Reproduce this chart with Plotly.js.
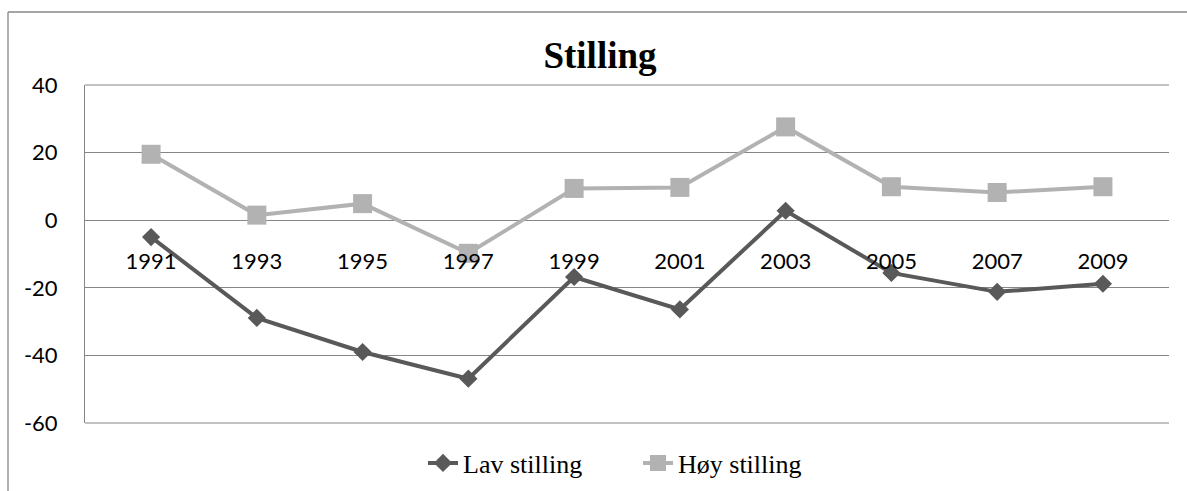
<!DOCTYPE html>
<html>
<head>
<meta charset="utf-8">
<script src="https://cdn.plot.ly/plotly-3.0.1.min.js"></script>
<style>html,body{margin:0;padding:0;background:#fff;}#chart{width:1187px;height:491px;}</style>
</head>
<body>
<div id="chart"></div>
<script>
const years = ["1991","1993","1995","1997","1999","2001","2003","2005","2007","2009"];
const lavStilling = [-5, -28.9, -39, -46.9, -16.8, -26.4, 2.8, -15.6, -21.2, -18.8];
const hoyStilling = [19.5, 1.5, 4.9, -9.8, 9.4, 9.7, 27.6, 9.9, 8.2, 9.9];
const seriesNames = ["Lav stilling", "Høy stilling"];
const yTicks = [-60, -40, -20, 0, 20, 40];
const yTickText = ["-60", "-40", "-20", "0", "20", "40"];

const grid = "#868686";
const traces = [
  {x: years, y: lavStilling, name: seriesNames[0], type: "scatter", mode: "lines+markers",
   line: {color: "#595959", width: 4}, marker: {symbol: "diamond", size: 14, color: "#595959"}},
  {x: years, y: hoyStilling, name: seriesNames[1], type: "scatter", mode: "lines+markers",
   line: {color: "#b2b2b2", width: 4}, marker: {symbol: "square", size: 19, color: "#b2b2b2"}}
];
const L = 85, R = 1169, T = 85, B = 423;
const W = R - L, H = B - T;
const layout = {
  width: 1187, height: 491,
  margin: {l: L, r: 1187 - R, t: T, b: 491 - B, pad: 0, autoexpand: false},
  paper_bgcolor: "#fff", plot_bgcolor: "#fff",
  showlegend: true,
  title: {text: "<b>Stilling</b>", font: {family: "Liberation Serif", size: 37, color: "#000"},
          x: 600/1187, xref: "container", xanchor: "center", y: 1 - 55/491, yref: "container", yanchor: "middle", automargin: false},
  xaxis: {type: "category", categoryorder: "array", categoryarray: years,
          anchor: "free", position: 0.6, showline: false, ticks: "", showgrid: false, zeroline: false,
          tickfont: {family: "Lato", size: 22, color: "#000"}, ticklabelstandoff: 26},
  yaxis: {range: [-60, 40], tickvals: yTicks, ticktext: yTickText, showgrid: true, gridcolor: grid, gridwidth: 1,
          zeroline: false, showline: true, linecolor: grid, linewidth: 1, ticks: "",
          tickfont: {family: "Lato", size: 22, color: "#000"}, ticklabelstandoff: 22},
  legend: {orientation: "h", xref: "container", yref: "container", x: 423/1187, xanchor: "left",
           y: 1 - 463/491, yanchor: "middle", entrywidth: 170, entrywidthmode: "pixels",
           font: {family: "Liberation Serif", size: 26, color: "#000"}, bgcolor: "rgba(0,0,0,0)"},
  shapes: [
    {type: "line", xref: "paper", yref: "paper", x0: (8-L)/W, x1: (1187-L)/W,
     y0: (B-12)/H, y1: (B-12)/H, line: {color: "#878787", width: 1.3}, layer: "below"},
    {type: "line", xref: "paper", yref: "paper", x0: (8-L)/W, x1: (8-L)/W,
     y0: (B-491)/H, y1: (B-12)/H, line: {color: "#878787", width: 1.3}, layer: "below"},
    {type: "line", xref: "paper", yref: "paper", x0: 0, x1: 1, y0: 0, y1: 0, line: {color: grid, width: 1}, layer: "below"},
    {type: "line", xref: "paper", yref: "paper", x0: 0, x1: 1, y0: 1, y1: 1, line: {color: grid, width: 1}, layer: "below"}
  ]
};
Plotly.newPlot("chart", traces, layout, {displayModeBar: false, staticPlot: true});
</script>
</body>
</html>
